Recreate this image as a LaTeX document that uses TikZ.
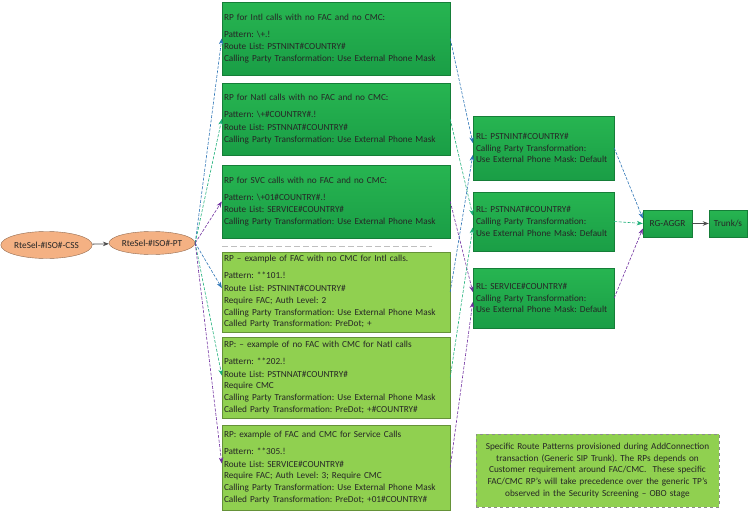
\documentclass[tikz,border=0pt]{standalone}
\usepackage{fontspec}
\setmainfont{Carlito}
\usetikzlibrary{arrows.meta,shapes.geometric}
\definecolor{intlblue}{HTML}{2E75B6}
\definecolor{natlgreen}{HTML}{1FB07A}
\definecolor{svcpurple}{HTML}{7030A0}
\definecolor{darkgreentop}{HTML}{27B551}
\definecolor{darkgreenbot}{HTML}{1A9E46}
\definecolor{lightgreen}{HTML}{90D050}
\definecolor{peach}{HTML}{F4B183}
\newcommand{\intlcolor}{intlblue}
\newcommand{\natlcolor}{natlgreen}
\newcommand{\svccolor}{svcpurple}
\newcommand{\rptext}{\fontsize{9.25}{11.8}\selectfont}
\frenchspacing

\tikzset{
  every node/.style={text=black!85},
  oval/.style={ellipse, draw=peach!60!black, fill=peach, inner sep=0pt, font=\rptext},
  rpbox/.style={draw=darkgreenbot!80!black, top color=darkgreentop, bottom color=darkgreenbot, minimum width=228pt, text width=224pt, inner xsep=2pt, align=left, font=\rptext},
  rpfac/.style={draw=lightgreen!70!black, fill=lightgreen, minimum width=228pt, text width=224pt, inner xsep=2pt, align=left, font=\rptext},
  rlbox/.style={draw=darkgreenbot!80!black, top color=darkgreentop, bottom color=darkgreenbot, minimum width=141pt, text width=135pt, inner xsep=3pt, align=left, font=\rptext},
  smallbox/.style={draw=darkgreenbot!80!black, top color=darkgreentop, bottom color=darkgreenbot, minimum height=27pt, inner sep=0pt, font=\rptext},
  link/.style={dashed, dash pattern=on 3pt off 1.5pt, line width=0.6pt, -{Stealth[length=6pt,width=4.5pt]}},
  flow/.style={draw=black!70, line width=0.8pt, -{Stealth[length=6pt,width=4.5pt]}}
}

\begin{document}
\begin{tikzpicture}[x=1pt,y=-1pt]
\useasboundingbox (0,0) rectangle (748,514);
\node[oval, minimum width=87pt, minimum height=27pt] (css) at (46.5,245) {RteSel-\#ISO\#-CSS};
\node[oval, minimum width=86pt, minimum height=23pt] (pt) at (152,243) {RteSel-\#ISO\#-PT};
\draw[flow] (css) -- (pt);
%generic RPs
\node[rpbox, minimum height=73pt] (rp1) at (336,38.5) {RP for Intl calls with no FAC and no CMC:\\[5pt]
Pattern: \textbackslash+.!\\[1pt]
Route List: PSTNINT\#COUNTRY\#\\
Calling Party Transformation: Use External Phone Mask};
\node[rpbox, minimum height=72pt] (rp2) at (336,119) {RP for Natl calls with no FAC and no CMC:\\[5pt]
Pattern: \textbackslash+\#COUNTRY\#.!\\[1pt]
Route List: PSTNNAT\#COUNTRY\#\\
Calling Party Transformation: Use External Phone Mask};
\node[rpbox, minimum height=73pt] (rp3) at (336,201.5) {RP for SVC calls with no FAC and no CMC:\\[5pt]
Pattern: \textbackslash+01\#COUNTRY\#.!\\[1pt]
Route List: SERVICE\#COUNTRY\#\\
Calling Party Transformation: Use External Phone Mask};
\draw[black!25, dashed, dash pattern=on 6pt off 3pt, line width=0.8pt] (222,246) -- (432,246);
%FAC and CMC RPs
\node[rpfac, minimum height=80pt] (rp4) at (336,292) {RP -- example of FAC with no CMC for Intl calls.\\[5pt]
Pattern: **101.!\\[1pt]
Route List: PSTNINT\#COUNTRY\#\\
Require FAC; Auth Level: 2\\
Calling Party Transformation: Use External Phone Mask\\
Called Party Transformation: PreDot; +};
\node[rpfac, minimum height=81pt] (rp5) at (336,377.5) {RP: -- example of no FAC with CMC for Natl calls\\[5pt]
Pattern: **202.!\\[1pt]
Route List: PSTNNAT\#COUNTRY\#\\
Require CMC\\
Calling Party Transformation: Use External Phone Mask\\
Called Party Transformation: PreDot; +\#COUNTRY\#};
\node[rpfac, minimum height=85pt] (rp6) at (336,467.5) {RP: example of FAC and CMC for Service Calls\\[5pt]
Pattern: **305.!\\[1pt]
Route List: SERVICE\#COUNTRY\#\\
Require FAC; Auth Level: 3; Require CMC\\
Calling Party Transformation: Use External Phone Mask\\
Called Party Transformation: PreDot; +01\#COUNTRY\#};
%route lists
\node[rlbox, minimum height=64pt] (rl1) at (543.5,148) {RL: PSTNINT\#COUNTRY\#\\
Calling Party Transformation:\\
Use External Phone Mask: Default};
\node[rlbox, minimum height=59pt] (rl2) at (543.5,221.5) {RL: PSTNNAT\#COUNTRY\#\\
Calling Party Transformation:\\
Use External Phone Mask: Default};
\node[rlbox, minimum height=60pt] (rl3) at (543.5,298) {RL: SERVICE\#COUNTRY\#\\
Calling Party Transformation:\\
Use External Phone Mask: Default};
\node[smallbox, minimum width=49pt] (aggr) at (667.5,223.5) {RG-AGGR};
\node[smallbox, minimum width=38pt] (trunk) at (728,223.5) {Trunk/s};
\draw[flow] (aggr) -- (trunk);
%note
\node[draw=black!45, dashed, fill=lightgreen, minimum width=243pt, minimum height=73pt, text width=239pt, inner xsep=2pt, align=center, font=\rptext] (note) at (597.5,470.5) {Specific Route Patterns provisioned during AddConnection\\
transaction (Generic SIP Trunk). The RPs depends on\\
Customer requirement around FAC/CMC.\ \ These specific\\
FAC/CMC RP's will take precedence over the generic TP's\\
observed in the Security Screening -- OBO stage};
%PT to RPs
\draw[link, \intlcolor] (pt.east) -- (rp1.west);
\draw[link, \natlcolor] (pt.east) -- (rp2.west);
\draw[link, \svccolor] (pt.east) -- (rp3.west);
\draw[link, \intlcolor] (pt.east) -- ([yshift=4pt]rp4.west);
\draw[link, \natlcolor] (pt.east) -- ([yshift=2pt]rp5.west);
\draw[link, \svccolor] (pt.east) -- ([yshift=4pt]rp6.west);
%RPs to RLs
\draw[link, \intlcolor] (rp1.east) -- ([yshift=5pt]rl1.west);
\draw[link, \natlcolor] (rp2.east) -- ([yshift=6pt]rl2.west);
\draw[link, \svccolor] (rp3.east) -- ([yshift=6pt]rl3.west);
\draw[link, \intlcolor] (rp4.east) -- ([yshift=-7pt]rl1.west);
\draw[link, \natlcolor] (rp5.east) -- ([yshift=-6pt]rl2.west);
\draw[link, \svccolor] (rp6.east) -- ([yshift=-4pt]rl3.west);
%RLs to RG
\draw[link, \intlcolor] (rl1.east) -- ([yshift=5pt]aggr.west);
\draw[link, \natlcolor] (rl2.east) -- (aggr.west);
\draw[link, \svccolor] (rl3.east) -- ([yshift=-5pt]aggr.west);
\end{tikzpicture}
\end{document}
